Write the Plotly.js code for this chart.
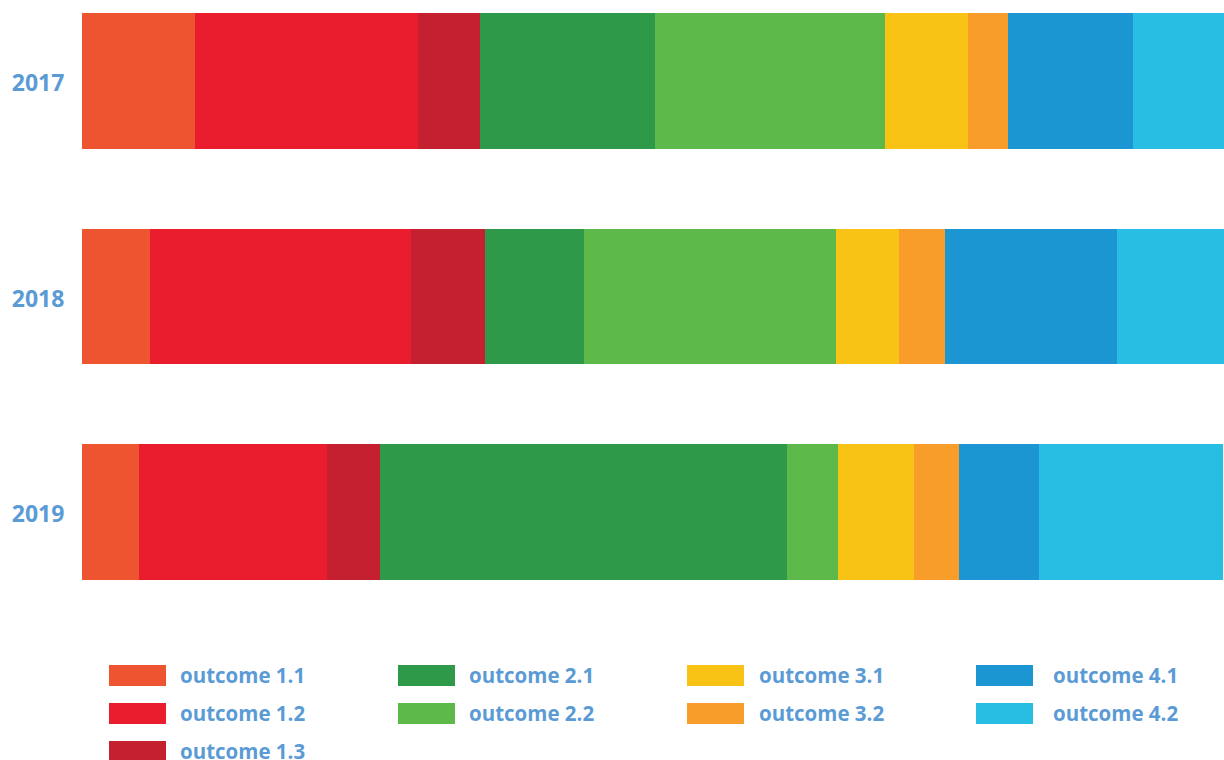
<!DOCTYPE html>
<html>
<head>
<meta charset="utf-8">
<script src="https://cdn.plot.ly/plotly-3.0.1.min.js"></script>
<style>
  html, body { margin: 0; padding: 0; background: #ffffff; }
  #chart { width: 1224px; height: 760px; }
</style>
</head>
<body>
<div id="chart"></div>
<script>
// ---- data ----
const years = ['2017', '2018', '2019'];
const outcomes = ['outcome 1.1', 'outcome 1.2', 'outcome 1.3', 'outcome 2.1', 'outcome 2.2',
                  'outcome 3.1', 'outcome 3.2', 'outcome 4.1', 'outcome 4.2'];
const colors = ['#EE5430', '#E91D2D', '#C4202F', '#2E9949', '#5CB94A',
                '#F8C314', '#F99D2A', '#1B96D3', '#28BDE3'];
// share (%) of each outcome per year, in order 2017, 2018, 2019
const v2017 = [9.89, 19.53, 5.43, 15.32, 20.14, 7.27, 3.50, 10.95, 7.97];
const v2018 = [5.95, 22.85, 6.48, 8.67, 22.07, 5.52, 4.03, 15.06, 9.37];
const v2019 = [5.00, 16.46, 4.64, 35.64, 4.47, 6.65, 3.94, 7.01, 16.11];

// ---- styling ----
const textColor = '#5B9BD5';
const fontFamily = '"Open Sans", "Noto Sans", sans-serif';
const W = 1224, H = 760, ML = 82;

const byYear = [v2017, v2018, v2019];
const traces = outcomes.map((name, i) => ({
  type: 'bar',
  orientation: 'h',
  name: name,
  y: years,
  x: byYear.map(arr => arr[i]),
  marker: { color: colors[i], line: { width: 0 } },
  hoverinfo: 'name+x',
  showlegend: false
}));

// custom legend: columns by major outcome number, rows by minor number
const px2x = px => (px - ML) / (W - ML);
const px2y = py => 1 - py / H;
const swatchX = [109, 398, 687, 976];
const labelX = [179, 468, 758, 1052];
const rowTop = 665, rowStep = 38, swW = 57, swH = 21;

const shapes = [];
const annotations = [];
outcomes.forEach((name, i) => {
  const m = name.match(/(\d+)\.(\d+)/);
  const col = parseInt(m[1], 10) - 1;
  const row = parseInt(m[2], 10) - 1;
  const top = rowTop + rowStep * row;
  shapes.push({
    type: 'rect', xref: 'paper', yref: 'paper', layer: 'above',
    x0: px2x(swatchX[col]), x1: px2x(swatchX[col] + swW),
    y0: px2y(top + swH), y1: px2y(top),
    fillcolor: colors[i], line: { width: 0 }
  });
  annotations.push({
    xref: 'paper', yref: 'paper', showarrow: false,
    x: px2x(labelX[col]), y: px2y(top + swH / 2 - 0.5),
    xanchor: 'left', yanchor: 'middle', borderpad: 0,
    text: name,
    font: { family: fontFamily, size: 20.5, color: textColor, weight: 700 }
  });
});

const layout = {
  width: W, height: H,
  margin: { l: ML, r: 0, t: 0, b: 0, pad: 0 },
  paper_bgcolor: '#ffffff',
  plot_bgcolor: '#ffffff',
  barmode: 'stack',
  bargap: 0.369,
  showlegend: false,
  xaxis: {
    range: [0, 100],
    showgrid: false, zeroline: false, showline: false,
    showticklabels: false, ticks: '', fixedrange: true
  },
  yaxis: {
    type: 'category',
    categoryorder: 'array', categoryarray: years,
    range: [3.1508, -0.3759],
    showgrid: false, zeroline: false, showline: false,
    ticks: 'outside', ticklen: 12, tickcolor: 'rgba(0,0,0,0)',
    ticklabelshift: -2,
    tickfont: { family: fontFamily, size: 23, color: textColor, weight: 700 },
    fixedrange: true
  },
  shapes: shapes,
  annotations: annotations
};

Plotly.newPlot('chart', traces, layout, { displayModeBar: false, staticPlot: true });
</script>
</body>
</html>
